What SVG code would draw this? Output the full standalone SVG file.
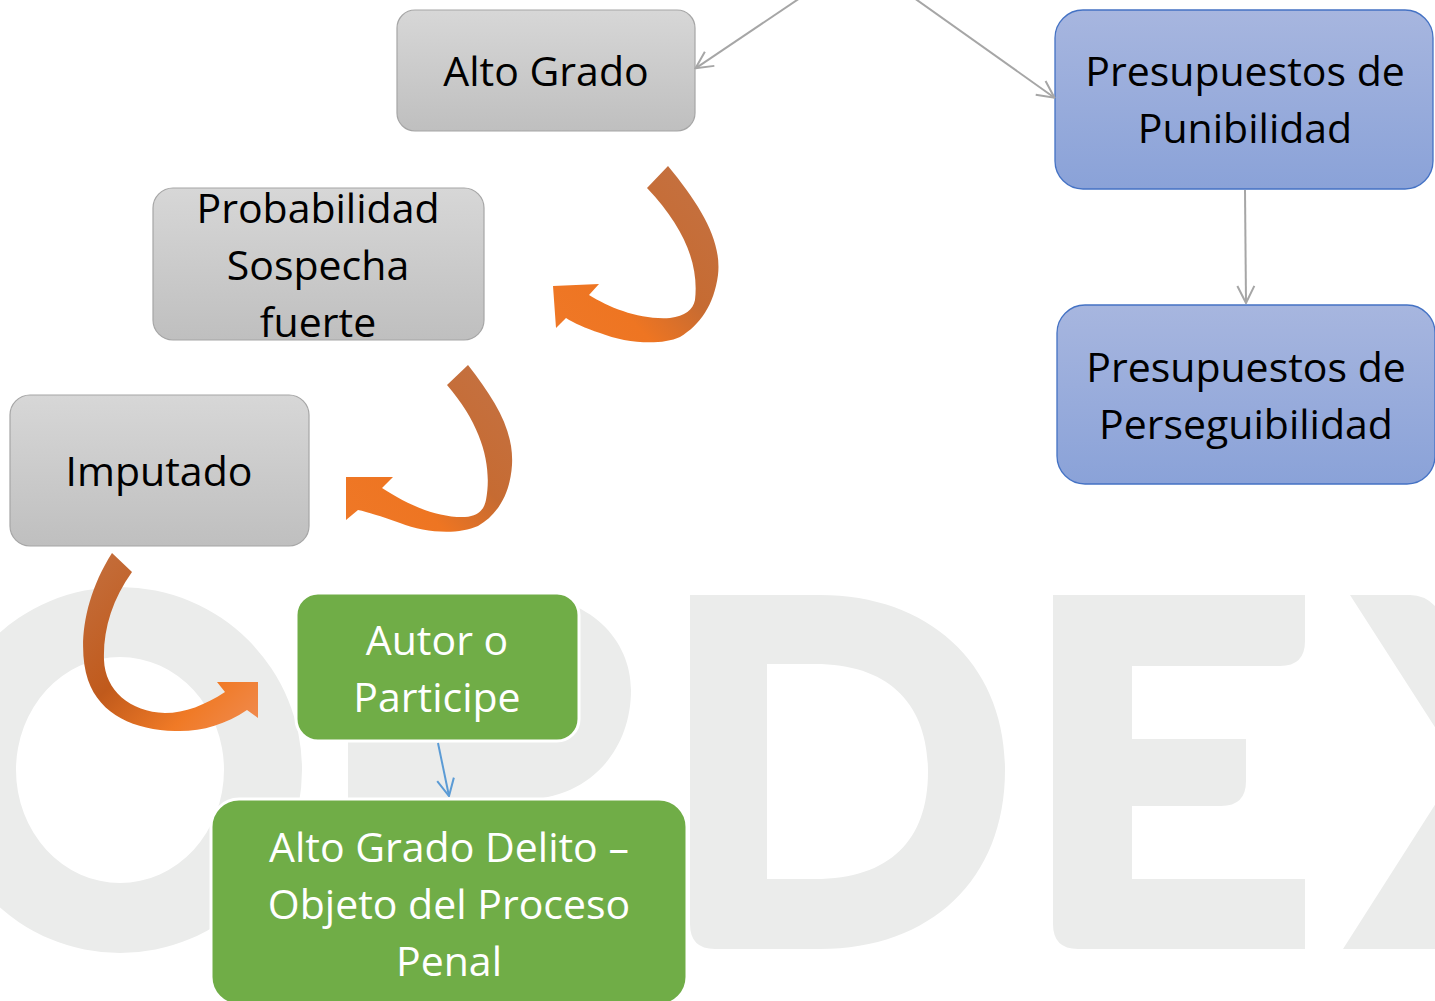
<svg xmlns="http://www.w3.org/2000/svg" width="1435" height="1001" viewBox="0 0 1435 1001">
  <defs>
    <style>
      .lbl { font-family: "Open Sans", "Liberation Sans", sans-serif; font-size: 41px; text-anchor: middle; }
      .dark { fill: #000000; }
      .light { fill: #ffffff; }
      .gray { fill: url(#gGray); stroke: #a6a6a6; stroke-width: 1.2; }
      .blue { fill: url(#gBlue); stroke: #4472c4; stroke-width: 1.3; }
      .green { fill: #70ad47; stroke: #ffffff; stroke-width: 3; }
      .wm { fill: #ebeceb; }
      .conn { fill: none; stroke: #a6a6a6; stroke-width: 2; }
      .connb { fill: none; stroke: #5b9bd5; stroke-width: 2; }
    </style>
    <linearGradient id="gGray" x1="0" y1="0" x2="0" y2="1">
      <stop offset="0" stop-color="#d7d7d7"/>
      <stop offset="1" stop-color="#bfbfbf"/>
    </linearGradient>
    <linearGradient id="gBlue" x1="0" y1="0" x2="0" y2="1">
      <stop offset="0" stop-color="#a7b6df"/>
      <stop offset="1" stop-color="#8aa2d8"/>
    </linearGradient>
    <linearGradient id="gOrA" x1="1" y1="0" x2="0" y2="1">
      <stop offset="0" stop-color="#c47244"/>
      <stop offset="0.45" stop-color="#c66b32"/>
      <stop offset="0.7" stop-color="#ee7522"/>
      <stop offset="1" stop-color="#ef7827"/>
    </linearGradient>
    <linearGradient id="gOrC" x1="0" y1="0" x2="1" y2="1">
      <stop offset="0" stop-color="#c4703f"/>
      <stop offset="0.45" stop-color="#c05a1c"/>
      <stop offset="0.75" stop-color="#f07a26"/>
      <stop offset="1" stop-color="#f08c52"/>
    </linearGradient>
    <marker id="arrGray" viewBox="0 0 20 20" refX="19" refY="10" markerWidth="20" markerHeight="20" markerUnits="userSpaceOnUse" orient="auto">
      <path d="M2,1.5 L19,10 L2,18.5" fill="none" stroke="#a6a6a6" stroke-width="2"/>
    </marker>
    <marker id="arrBlue" viewBox="0 0 20 20" refX="19" refY="10" markerWidth="20" markerHeight="20" markerUnits="userSpaceOnUse" orient="auto">
      <path d="M2,1.5 L19,10 L2,18.5" fill="none" stroke="#5b9bd5" stroke-width="2"/>
    </marker>
  </defs>

  <rect x="0" y="0" width="1435" height="1001" fill="#ffffff"/>

  <g id="watermark">
    <path class="wm" fill-rule="evenodd" d="M120,587 A182,183 0 1 1 120,953 A182,183 0 1 1 120,587 Z M120,657 A104,113 0 1 0 120,883 A104,113 0 1 0 120,657 Z"/>
    <path class="wm" fill-rule="evenodd" d="M348,595 H520 C590,595 631,640 631,690 C631,750 590,800 520,800 H425 V949 H348 Z M425,665 H505 C540,665 560,680 560,700 C560,725 540,740 505,740 H425 Z"/>
    <path class="wm" fill-rule="evenodd" d="M690,595 H820 C930,595 1005,665 1005,770 C1005,880 930,949 820,949 H715 Q690,949 690,924 Z M767,664 H815 C890,664 928,705 928,772 C928,840 890,879 815,879 H767 Z"/>
    <path class="wm" d="M1053,595 H1305 V641 Q1305,666 1280,666 H1132 V739 H1246 V781 Q1246,806 1221,806 H1132 V879 H1305 V949 H1078 Q1053,949 1053,924 Z"/>
    <path class="wm" d="M1350,595 H1410 Q1428,595 1440,612 V949 H1343 L1440,797 L1440,735 Z"/>
  </g>

  <g id="node-alto-grado">
    <rect class="gray" x="397" y="10" width="298" height="121" rx="18"/>
    <text class="lbl dark" x="546" y="86">Alto Grado</text>
  </g>

  <g id="node-probabilidad">
    <rect class="gray" x="153" y="188" width="331" height="152" rx="20"/>
    <text class="lbl dark" x="318" y="223">Probabilidad</text>
    <text class="lbl dark" x="318" y="280">Sospecha</text>
    <text class="lbl dark" x="318" y="337">fuerte</text>
  </g>

  <g id="node-imputado">
    <rect class="gray" x="10" y="395" width="299" height="151" rx="20"/>
    <text class="lbl dark" x="159" y="486">Imputado</text>
  </g>

  <g id="node-punibilidad">
    <rect class="blue" x="1055" y="10" width="378" height="179" rx="28"/>
    <text class="lbl dark" x="1245" y="86">Presupuestos de</text>
    <text class="lbl dark" x="1245" y="143">Punibilidad</text>
  </g>

  <g id="node-perseguibilidad">
    <rect class="blue" x="1057" y="305" width="378" height="179" rx="28"/>
    <text class="lbl dark" x="1246" y="382">Presupuestos de</text>
    <text class="lbl dark" x="1246" y="439">Perseguibilidad</text>
  </g>

  <g id="node-autor">
    <rect class="green" x="296" y="593" width="283" height="148" rx="22"/>
    <text class="lbl light" x="437" y="655">Autor o</text>
    <text class="lbl light" x="437" y="712">Participe</text>
  </g>

  <g id="node-delito">
    <rect class="green" x="211" y="799" width="476" height="206" rx="28"/>
    <text class="lbl light" x="449" y="862">Alto Grado Delito –</text>
    <text class="lbl light" x="449" y="919">Objeto del Proceso</text>
    <text class="lbl light" x="449" y="976">Penal</text>
  </g>

  <g id="connectors">
    <line class="conn" x1="804.5" y1="-5" x2="695.5" y2="68.3" marker-end="url(#arrGray)"/>
    <line class="conn" x1="909.9" y1="-5" x2="1054.5" y2="97.7" marker-end="url(#arrGray)"/>
    <line class="conn" x1="1245" y1="190" x2="1246" y2="303" marker-end="url(#arrGray)"/>
    <line class="connb" x1="438" y1="743" x2="449" y2="796" marker-end="url(#arrBlue)"/>
    <path fill="url(#gOrA)" d="M647,188 L668,166 C700,205 722,240 718,275 C714,305 700,325 680,337 C660,346 625,343 600,333 C585,328 574,323 566,318 L556,328 L553,286 L599,284 L589,295 C610,308 640,320 670,318 C685,316 693,310 695,300 C699,265 685,228 647,188 Z"/>
    <path fill="url(#gOrA)" d="M447,385 L468,365 C495,400 514,430 512,465 C510,495 497,515 478,526 C458,535 425,533 400,523 C380,516 368,512 358,510 L346,520 L346,477 L393,477 L382,488 C405,503 435,518 465,517 C478,516 484,510 486,500 C492,468 484,428 447,385 Z"/>
    <path fill="url(#gOrC)" d="M112,553 L132,572 C112,600 103,630 104,660 C105,690 130,712 165,713 C185,713 205,705 225,692 L217,682 L258,682 L258,718 L247,710 C225,725 200,732 175,731 C135,730 100,715 88,680 C78,650 82,600 112,553 Z"/>
  </g>
</svg>
